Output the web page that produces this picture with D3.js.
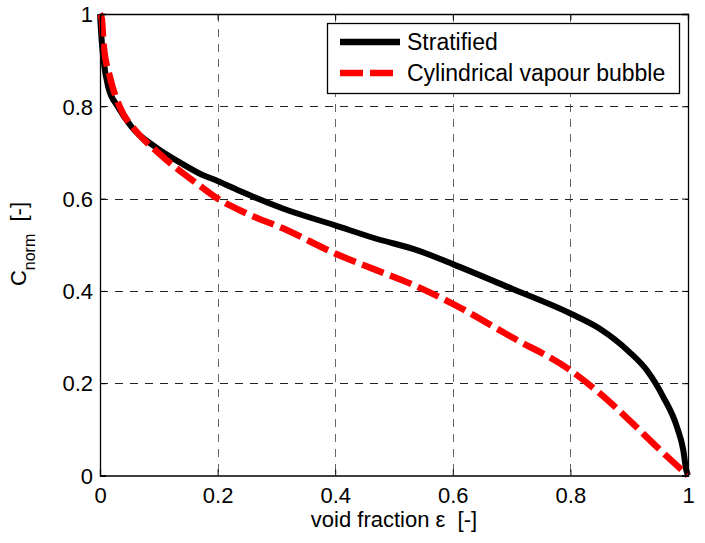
<!DOCTYPE html>
<html>
<head>
<meta charset="utf-8">
<script src="https://cdn.jsdelivr.net/npm/d3@7"></script>
<style>
  html, body { margin: 0; padding: 0; background: #fff; }
  svg { display: block; font-family: "Liberation Sans", Arial, sans-serif; }
</style>
</head>
<body>
<svg id="chart" width="705" height="543"></svg>
<script>
// Normalised capacitance against void fraction for two flow patterns
const voidStratified = [0, 0.003, 0.006, 0.014, 0.031, 0.054, 0.094, 0.139, 0.17, 0.2, 0.244, 0.312, 0.4, 0.47, 0.54, 0.6, 0.7, 0.8, 0.85, 0.9, 0.93, 0.958, 0.981, 0.992, 0.997, 1.0];
const cStratified    = [1.0, 0.94, 0.90, 0.842, 0.798, 0.755, 0.712, 0.676, 0.654, 0.638, 0.613, 0.578, 0.542, 0.513, 0.488, 0.458, 0.405, 0.351, 0.318, 0.268, 0.228, 0.17, 0.106, 0.055, 0.012, 0];

const voidBubble = [0, 0.003, 0.006, 0.017, 0.034, 0.06, 0.094, 0.128, 0.173, 0.2, 0.244, 0.312, 0.4, 0.47, 0.54, 0.6, 0.7, 0.8, 0.85, 0.9, 0.947, 1.0];
const cBubble    = [1.0, 0.99, 0.935, 0.863, 0.798, 0.748, 0.705, 0.668, 0.625, 0.600, 0.571, 0.535, 0.481, 0.445, 0.409, 0.372, 0.30, 0.228, 0.178, 0.12, 0.062, 0];

const seriesNames = ["Stratified", "Cylindrical vapour bubble"];
const xTicks = [0, 0.2, 0.4, 0.6, 0.8, 1];
const yTicks = [0, 0.2, 0.4, 0.6, 0.8, 1];

const svg = d3.select("#chart");
const plotLeft = 100, plotRight = 688, plotTop = 14, plotBottom = 475.5;

const x = d3.scaleLinear().domain([0, 1]).range([plotLeft, plotRight]);
const y = d3.scaleLinear().domain([0, 1]).range([plotBottom, plotTop]);

// dashed grid
const grid = svg.append("g");
grid.selectAll("line.v").data(xTicks.slice(1, -1)).join("line")
  .attr("x1", d => Math.round(x(d)) + 0.5).attr("x2", d => Math.round(x(d)) + 0.5)
  .attr("y1", plotTop).attr("y2", plotBottom)
  .attr("stroke", "#666").attr("stroke-width", 1).attr("stroke-dasharray", "8,7");
grid.selectAll("line.h").data(yTicks.slice(1, -1)).join("line")
  .attr("x1", plotLeft).attr("x2", plotRight)
  .attr("y1", d => Math.round(y(d)) + 0.5).attr("y2", d => Math.round(y(d)) + 0.5)
  .attr("stroke", "#222").attr("stroke-width", 1).attr("stroke-dasharray", "8,7");

// curves
const line = d3.line().x(d => x(d[0])).y(d => y(d[1])).curve(d3.curveMonotoneX);
const strat = voidStratified.map((v, i) => [v, cStratified[i]]);
const bub = voidBubble.map((v, i) => [v, cBubble[i]]);

svg.append("path").datum(strat).attr("d", line)
  .attr("fill", "none").attr("stroke", "#000").attr("stroke-width", 6)
  .attr("stroke-linejoin", "round");
svg.append("path").datum(bub).attr("d", line)
  .attr("fill", "none").attr("stroke", "#ff0000").attr("stroke-width", 6.5)
  .attr("stroke-dasharray", "23,7").attr("stroke-linejoin", "round");

// axes with inward ticks on all four sides
const fs = "22px";
const axB = svg.append("g").attr("transform", `translate(0,${plotBottom})`)
  .call(d3.axisBottom(x).tickValues(xTicks).tickSize(-6).tickPadding(12).tickFormat(d3.format("~g")));
const axT = svg.append("g").attr("transform", `translate(0,${plotTop})`)
  .call(d3.axisTop(x).tickValues(xTicks).tickSize(-6).tickFormat(""));
const axL = svg.append("g").attr("transform", `translate(${plotLeft},0)`)
  .call(d3.axisLeft(y).tickValues(yTicks).tickSize(-6).tickPadding(7).tickFormat(d3.format("~g")));
const axR = svg.append("g").attr("transform", `translate(${plotRight},0)`)
  .call(d3.axisRight(y).tickValues(yTicks).tickSize(-6).tickFormat(""));
[axB, axT, axL, axR].forEach(a => {
  a.select(".domain").attr("stroke", "#000").attr("stroke-width", 1.3);
  a.selectAll(".tick line").attr("stroke", "#000");
  a.selectAll("text").attr("font-size", fs).attr("fill", "#000")
    .attr("font-family", "'Liberation Sans', Arial, sans-serif");
});
axB.selectAll("text").attr("dy", "0.71em");
axL.selectAll("text").attr("dy", "0.35em");

// axis titles
svg.append("text").attr("x", 394).attr("y", 527).attr("text-anchor", "middle")
  .attr("font-size", fs).text("void fraction \u03b5\u00a0\u00a0[-]");

const yl = svg.append("text").attr("transform", "translate(26,244) rotate(-90)")
  .attr("text-anchor", "middle").attr("font-size", fs);
yl.append("tspan").text("C");
yl.append("tspan").attr("font-size", "16px").attr("dy", "9").text("norm");
yl.append("tspan").attr("dy", "-9").text("\u00a0\u00a0[-]");

// legend
const lg = svg.append("g");
lg.append("rect").attr("x", 327.5).attr("y", 23.5).attr("width", 352).attr("height", 70)
  .attr("fill", "#fff").attr("stroke", "#000").attr("stroke-width", 1.3);
const rows = [
  { name: seriesNames[0], color: "#000", dash: null, yy: 42 },
  { name: seriesNames[1], color: "#ff0000", dash: "23,7", yy: 73 }
];
rows.forEach(r => {
  lg.append("line").attr("x1", 340).attr("x2", 400).attr("y1", r.yy).attr("y2", r.yy)
    .attr("stroke", r.color).attr("stroke-width", 6.5)
    .attr("stroke-dasharray", r.dash);
  lg.append("text").attr("x", 407).attr("y", r.yy).attr("dy", "0.36em")
    .attr("font-size", "23px").text(r.name);
});
</script>
</body>
</html>
